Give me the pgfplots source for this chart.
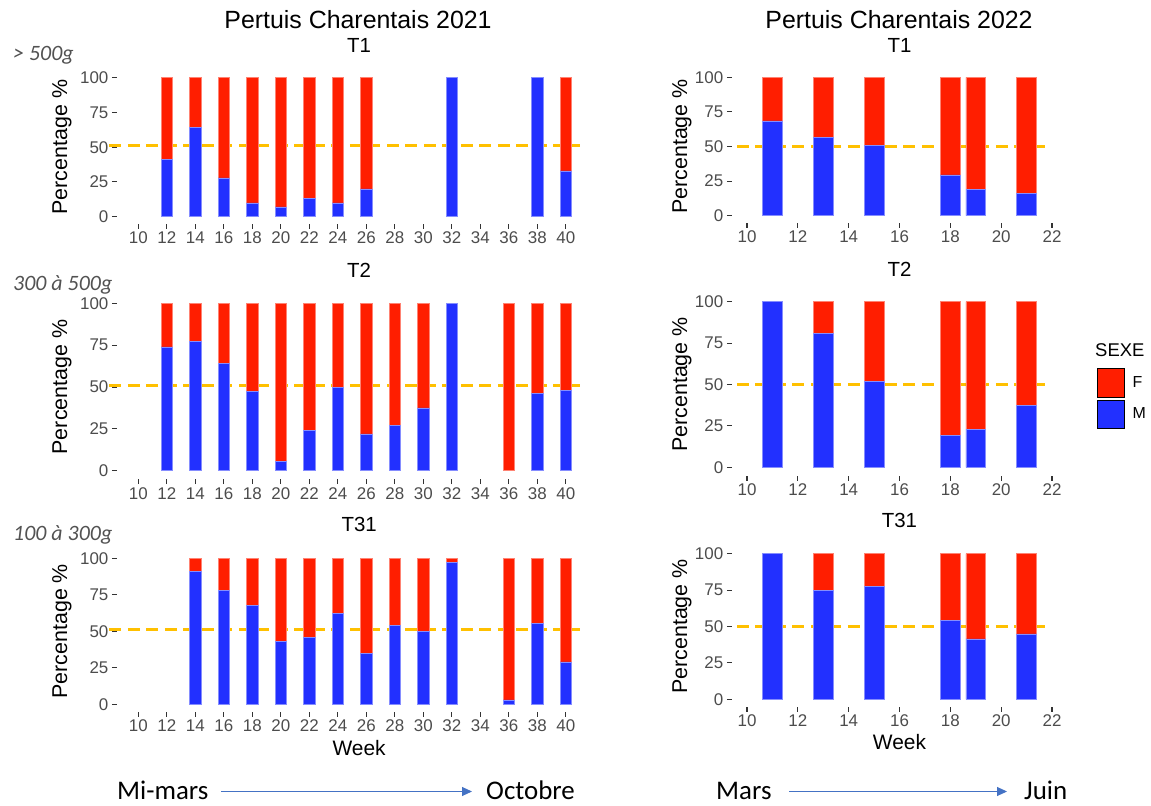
\documentclass[border=0pt]{standalone}
\usepackage{pgfplots}
\pgfplotsset{compat=1.18}
\usepackage{pgfplotstable}
\usepackage{fontspec}
\setmainfont{Liberation Sans}
\newfontfamily\calibri{Carlito}
\usetikzlibrary{arrows.meta}

\definecolor{colF}{RGB}{255,30,0}
\definecolor{colM}{RGB}{34,48,255}
\definecolor{gold}{RGB}{255,192,0}
\definecolor{arrowblue}{RGB}{68,114,196}

% 2021 (weeks), share of males / females in %
\pgfplotstableread{
week M F
12 41 59
14 64 36
16 28 72
18 10 90
20 7 93
22 13 87
24 10 90
26 20 80
32 100 0
38 100 0
40 33 67
}\aTone
\pgfplotstableread{
week M F
12 74 26
14 77.5 22.5
16 64 36
18 47.5 52.5
20 5.5 94.5
22 24 76
24 50 50
26 22 78
28 27 73
30 37.5 62.5
32 100 0
36 0 100
38 46 54
40 48 52
}\aTtwo
\pgfplotstableread{
week M F
14 91 9
16 78 22
18 68 32
20 43 57
22 46 54
24 62.5 37.5
26 35 65
28 54 46
30 50 50
32 97 3
36 3 97
38 55.5 44.5
40 29 71
}\aTthree

% 2022
\pgfplotstableread{
week M F
11 68.5 31.5
13 56.5 43.5
15 51 49
18 29.5 70.5
19 19 81
21 16 84
}\bTone
\pgfplotstableread{
week M F
11 100 0
13 81 19
15 52 48
18 19.5 80.5
19 23 77
21 37.5 62.5
}\bTtwo
\pgfplotstableread{
week M F
11 100 0
13 75 25
15 77.5 22.5
18 54 46
19 41.5 58.5
21 45 55
}\bTthree

\pgfplotsset{
  panel/.style={
    scale only axis, ybar stacked, bar width=0.78,
    ymin=-5, ymax=105, ytick={0,25,50,75,100},
    axis line style={draw=none},
    tick align=outside, major tick length=5bp,
    every tick/.style={black!80, line width=1.1bp},
    xtick pos=bottom, ytick pos=left,
    tick label style={font=\fontsize{17}{17}\selectfont, text=black!70},
    /pgf/number format/assume math mode=true,
    ylabel={Percentage \%},
    title style={at={(axis description cs:0.5,1)}, anchor=center, yshift=19bp,
      font=\fontsize{20.5}{20.5}\selectfont},
    xlabel style={at={(axis description cs:0.5,0)}, anchor=center, yshift=-36.7bp,
      font=\fontsize{21}{21}\selectfont},
    clip=false,
  },
  left panel/.style={panel, width=484.5bp, xmin=8.5, xmax=42.5,
    xtick={10,12,...,40},
    every axis y label/.style={at={(axis description cs:-0.1133,0.5)}, rotate=90,
      anchor=center, font=\fontsize{21.5}{21.5}\selectfont}},
  right panel/.style={panel, width=335.5bp, xmin=9.4, xmax=22.6,
    xtick={10,12,...,22},
    every axis y label/.style={at={(axis description cs:-0.1483,0.5)}, rotate=90,
      anchor=center, font=\fontsize{21.5}{21.5}\selectfont}},
  mbar/.style={fill=colM, draw=colM!55!white, line width=0.5bp, forget plot},
  fbar/.style={fill=colF, draw=colF!55!white, line width=0.5bp, forget plot},
}

\begin{document}
\begin{tikzpicture}
\useasboundingbox (0,0) rectangle (1151bp,806bp);

% ---- 2021 ----
\begin{axis}[left panel, at={(116.9bp,582.35bp)}, anchor=south west,
  height=152.9bp, title={T1}]
\addplot[mbar] table[x=week,y=M]{\aTone};
\addplot[fbar] table[x=week,y=F]{\aTone};
\draw[gold, line width=3bp, dash pattern=on 12bp off 6.5bp] (axis cs:7.97,51) -- (axis cs:41,51);
\end{axis}

\begin{axis}[left panel, at={(116.9bp,326.9bp)}, anchor=south west,
  height=184.1bp, title={T2}, title style={yshift=-0.8bp}]
\addplot[mbar] table[x=week,y=M]{\aTtwo};
\addplot[fbar] table[x=week,y=F]{\aTtwo};
\draw[gold, line width=3bp, dash pattern=on 12bp off 6.5bp] (axis cs:7.97,51) -- (axis cs:41,51);
\end{axis}

\begin{axis}[left panel, at={(116.9bp,94.4bp)}, anchor=south west,
  height=160.6bp, title={T31}, title style={yshift=1.3bp}, xlabel={Week}]
\addplot[mbar] table[x=week,y=M]{\aTthree};
\addplot[fbar] table[x=week,y=F]{\aTthree};
\draw[gold, line width=3bp, dash pattern=on 12bp off 6.5bp] (axis cs:7.97,51) -- (axis cs:41,51);
\end{axis}

% ---- 2022 ----
\begin{axis}[right panel, at={(731.75bp,583.4bp)}, anchor=south west,
  height=152.2bp, title={T1}]
\addplot[mbar] table[x=week,y=M]{\bTone};
\addplot[fbar] table[x=week,y=F]{\bTone};
\draw[gold, line width=3bp, dash pattern=on 12bp off 6.5bp] (axis cs:9.6,50) -- (axis cs:21.8,50);
\end{axis}

\begin{axis}[right panel, at={(731.75bp,330.4bp)}, anchor=south west,
  height=182.2bp, title={T2}, title style={yshift=-0.6bp},
  legend style={at={(axis description cs:1.0878,0.5889)}, anchor=north west,
    draw=none, fill=none, inner sep=0pt, outer sep=0pt, row sep=2.6bp,
    font=\fontsize{16}{16}\selectfont,
    /tikz/every odd column/.append style={column sep=6bp}},
  legend cell align=left,
  legend image code/.code={\fill[#1] (0bp,-14.2bp) rectangle (27.6bp,14.2bp);}]
\addplot[mbar] table[x=week,y=M]{\bTtwo};
\addplot[fbar] table[x=week,y=F]{\bTtwo};
\draw[gold, line width=3bp, dash pattern=on 12bp off 6.5bp] (axis cs:9.6,50) -- (axis cs:21.8,50);
\addlegendimage{fill=colF}
\addlegendentry{F}
\addlegendimage{fill=colM}
\addlegendentry{M}
\end{axis}

\begin{axis}[right panel, at={(731.75bp,99.4bp)}, anchor=south west,
  height=160.2bp, title={T31}, title style={yshift=1.4bp}, xlabel={Week},
  xlabel style={yshift=1bp}]
\addplot[mbar] table[x=week,y=M]{\bTthree};
\addplot[fbar] table[x=week,y=F]{\bTthree};
\draw[gold, line width=3bp, dash pattern=on 12bp off 6.5bp] (axis cs:9.6,50) -- (axis cs:21.8,50);
\end{axis}

% headings and annotations
\node[font=\fontsize{25}{25}\selectfont] at (358bp,786bp) {Pertuis Charentais 2021};
\node[font=\fontsize{25}{25}\selectfont] at (899bp,786bp) {Pertuis Charentais 2022};
\node[anchor=west, inner sep=0pt, font=\fontsize{18.5}{18.5}\selectfont] at (1095bp,456bp) {SEXE};

\begin{scope}[every node/.style={anchor=west, inner sep=0pt, text=black!68,
    font=\calibri\itshape\fontsize{22}{22}\selectfont}]
\node at (13bp,751bp) {> 500g};
\node at (13bp,521bp) {300 à 500g};
\node at (13bp,271bp) {100 à 300g};
\end{scope}

\begin{scope}[every node/.style={anchor=base west, inner sep=0pt,
    font=\calibri\fontsize{27}{27}\selectfont}]
\node at (117bp,6.5bp) {Mi-mars};
\node at (486bp,6.5bp) {Octobre};
\node at (716bp,6.5bp) {Mars};
\node at (1024bp,6.5bp) {Juin};
\end{scope}
\draw[arrowblue, line width=1bp, -{Triangle[length=10bp,width=9bp]}] (221bp,14.5bp) -- (472bp,14.5bp);
\draw[arrowblue, line width=1bp, -{Triangle[length=10bp,width=9bp]}] (789bp,14.5bp) -- (1007bp,14.5bp);
\end{tikzpicture}
\end{document}
